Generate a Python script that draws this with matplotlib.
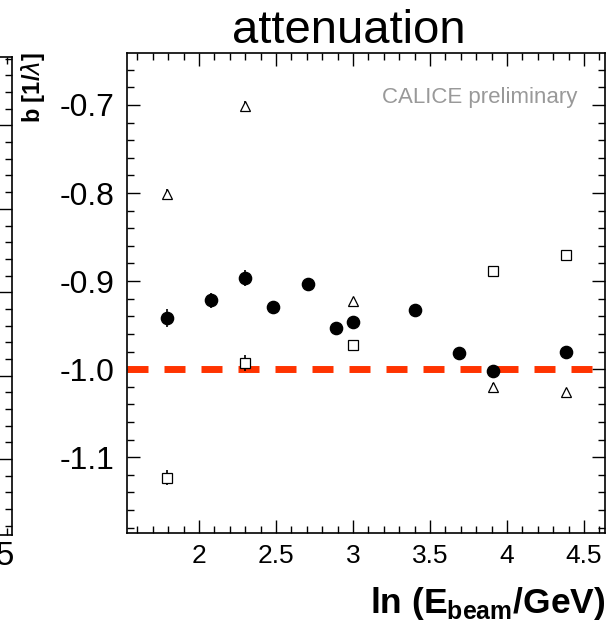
import matplotlib
matplotlib.use("Agg")
import matplotlib.pyplot as plt
from matplotlib.ticker import MultipleLocator, NullFormatter

plt.rcParams['font.family'] = ['Liberation Sans', 'DejaVu Sans']
plt.rcParams['mathtext.fontset'] = 'custom'
plt.rcParams['mathtext.rm'] = 'Liberation Sans'
plt.rcParams['mathtext.bf'] = 'Liberation Sans:bold'

# data: ln(E_beam/GeV) vs attenuation slope b
x_circ = [1.79, 2.08, 2.30, 2.48, 2.71, 2.89, 3.00, 3.40, 3.69, 3.91, 4.38]
y_circ = [-0.942, -0.922, -0.896, -0.929, -0.903, -0.953, -0.946, -0.933, -0.982, -1.002, -0.981]
e_circ = [0.010, 0.009, 0.009, 0.006, 0.006, 0.005, 0.005, 0.004, 0.004, 0.004, 0.004]

x_tri = [1.79, 2.30, 3.00, 3.91, 4.38]
y_tri = [-0.801, -0.701, -0.923, -1.020, -1.026]
e_tri = [0.006, 0.006, 0.004, 0.004, 0.004]

x_sq = [1.79, 2.30, 3.00, 3.91, 4.38]
y_sq = [-1.123, -0.993, -0.973, -0.889, -0.870]
e_sq = [0.009, 0.009, 0.005, 0.004, 0.004]

ref_level = -1.0

W, H = 608, 624
fig = plt.figure(figsize=(W / 100, H / 100), dpi=100)

# partial neighbouring panel on the left edge
axl = fig.add_axes([-0.8, 89 / H, 0.8 + 12 / W, (535 - 57) / H])
axl.set_xlim(1.5, 4.63)
axl.set_ylim(-0.91, 4.82)
axl.set_xticks([4.5])
axl.set_xticklabels(['4.5'])
axl.xaxis.set_minor_locator(MultipleLocator(0.1))
axl.yaxis.set_major_locator(MultipleLocator(1))
axl.yaxis.set_minor_locator(MultipleLocator(0.2))
axl.yaxis.set_major_formatter(NullFormatter())
axl.tick_params(which='both', direction='in', top=True, right=True, width=1)
axl.tick_params(which='major', length=9.5)
axl.tick_params(which='minor', length=5)
axl.tick_params(axis='x', labelsize=24, pad=4)
for s in axl.spines.values():
    s.set_linewidth(1.2)

ax = fig.add_axes([127 / W, 91 / H, (605 - 127) / W, (533 - 53) / H])

ax.errorbar(x_circ, y_circ, yerr=e_circ, fmt='o', color='black', ms=8.8,
            elinewidth=1.2, capsize=0, zorder=3)
ax.errorbar(x_tri, y_tri, yerr=e_tri, fmt='^', mfc='white', mec='black', ecolor='black',
            ms=7, mew=0.9, elinewidth=1.2, capsize=0, zorder=3)
ax.errorbar(x_sq, y_sq, yerr=e_sq, fmt='s', mfc='white', mec='black', ecolor='black',
            ms=7, mew=0.9, elinewidth=1.2, capsize=0, zorder=3)

ax.plot([1.532, 4.58], [ref_level, ref_level], color='#ff3300', lw=5,
        ls=(0, (21 * 0.72 / 5, 16 * 0.72 / 5)), solid_capstyle='butt', zorder=2)

ax.set_xlim(1.532, 4.636)
ax.set_ylim(-1.186, -0.641)
ax.xaxis.set_minor_locator(MultipleLocator(0.1))
ax.yaxis.set_minor_locator(MultipleLocator(0.02))
ax.set_xticks([2, 2.5, 3, 3.5, 4, 4.5])
ax.set_xticklabels(['2', '2.5', '3', '3.5', '4', '4.5'])
ax.set_yticks([-1.1, -1.0, -0.9, -0.8, -0.7])
ax.set_yticklabels(['-1.1', '-1.0', '-0.9', '-0.8', '-0.7'])
ax.tick_params(which='both', direction='in', top=True, right=True, width=1)
ax.tick_params(which='major', length=9.5)
ax.tick_params(which='minor', length=5)
ax.tick_params(axis='y', labelsize=23, pad=9)
ax.tick_params(axis='x', labelsize=19, pad=8)
for s in ax.spines.values():
    s.set_linewidth(1.2)

ax.text((577 - 127) / 478, (533 - 103) / 480, 'CALICE preliminary', color='#999999',
        fontsize=16, ha='right', va='baseline', transform=ax.transAxes)

fig.text(349 / W, 1 - 43 / H, 'attenuation', fontsize=34, ha='center', va='baseline')
fig.text(605 / W, 1 - 613 / H, r'ln (E$_{\mathbf{beam}}$/GeV)', fontsize=25.5,
         fontweight='bold', ha='right', va='baseline')
fig.text(33 / W, 1 - 52 / H, r'b [1/$\lambda$]', fontsize=17, fontweight='bold',
         rotation=90, ha='center', va='top')

fig.savefig('out.png', dpi=100)
